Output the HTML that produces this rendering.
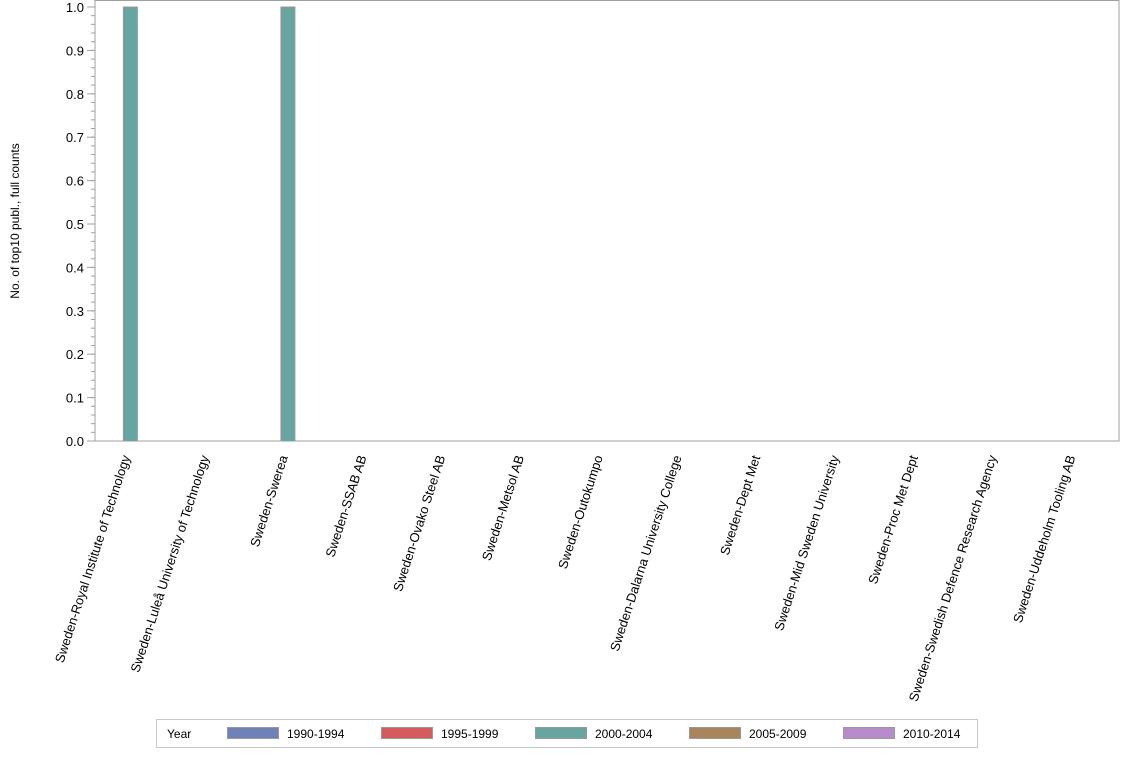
<!DOCTYPE html>
<html><head><meta charset="utf-8"><style>
body{margin:0;background:#fff;font-family:"Liberation Sans",Arial,sans-serif;}
svg text{font-family:"Liberation Sans",Arial,sans-serif;font-size:12px;fill:#000;}
svg text.big{font-size:13px;}
</style></head><body>
<svg id="chart" width="1134" height="756">
</svg>
<script>
const categories=["Sweden-Royal Institute of Technology","Sweden-Luleå University of Technology","Sweden-Swerea","Sweden-SSAB AB","Sweden-Ovako Steel AB","Sweden-Metsol AB","Sweden-Outokumpo","Sweden-Dalarna University College","Sweden-Dept Met","Sweden-Mid Sweden University","Sweden-Proc Met Dept","Sweden-Swedish Defence Research Agency","Sweden-Uddeholm Tooling AB"];
const values2000=[1,0,1,0,0,0,0,0,0,0,0,0,0];
const yTicks=[0,0.1,0.2,0.3,0.4,0.5,0.6,0.7,0.8,0.9,1.0];
const seriesNames=["1990-1994","1995-1999","2000-2004","2005-2009","2010-2014"];
const seriesColors=["#7080b8","#d45c5c","#66a5a0","#a8855a","#b88ccc"];
const NS="http://www.w3.org/2000/svg";
const svg=document.getElementById('chart');
const L=95,R=1119,T=0,B=441,Y1=7;
const band=(R-L)/categories.length;
const xc=i=>L+band*(i+0.5);
const y=v=>B-(B-Y1)*v;
function mk(t,a,p){const e=document.createElementNS(NS,t);for(const k in a)e.setAttribute(k,a[k]);(p||svg).appendChild(e);return e;}
let fr=mk('rect',{x:L,y:T+0.5,width:R-L,height:B-T-0.5,fill:'none',stroke:'#a0a0a0'});


for(let v=0;v<=1.0001;v+=0.02){const t=mk('line',{x1:L-4,x2:L,y1:y(v),y2:y(v),stroke:'#a0a0a0'});

}
yTicks.forEach(v=>{const t=mk('line',{x1:L-8,x2:L,y1:y(v),y2:y(v),stroke:'#a0a0a0'});


const tx=mk('text',{x:L-11,y:y(v)+5,'text-anchor':'end','class':'big'});tx.textContent=v.toFixed(1);

});
const yt=mk('text',{x:19,y:221,'text-anchor':'middle',transform:'rotate(-90 19 221)'});yt.textContent='No. of top10 publ., full counts';


categories.forEach((c,i)=>{const v=values2000[i];
if(v>0){const b=mk('rect',{x:xc(i)-11,y:y(v),width:14,height:B-y(v),fill:'#66a5a0',stroke:'#999'});

}
const x=xc(i)-4,yy=B+16;
const t=mk('text',{x:x,y:yy,'text-anchor':'end','class':'big',transform:`rotate(-72 ${x} ${yy})`});t.textContent=c;

});
const lb=mk('rect',{x:156.5,y:719.5,width:821,height:28,fill:'#fff',stroke:'#c8c8c8'});


const lt=mk('text',{x:167,y:738});lt.textContent='Year';


seriesNames.forEach((n,i)=>{const x0=227+154*i;
const s=mk('rect',{x:x0+0.5,y:727.5,width:51,height:11,fill:seriesColors[i],stroke:'#999'});


const t=mk('text',{x:x0+60,y:738});t.textContent=n;

});
</script>
</body></html>
